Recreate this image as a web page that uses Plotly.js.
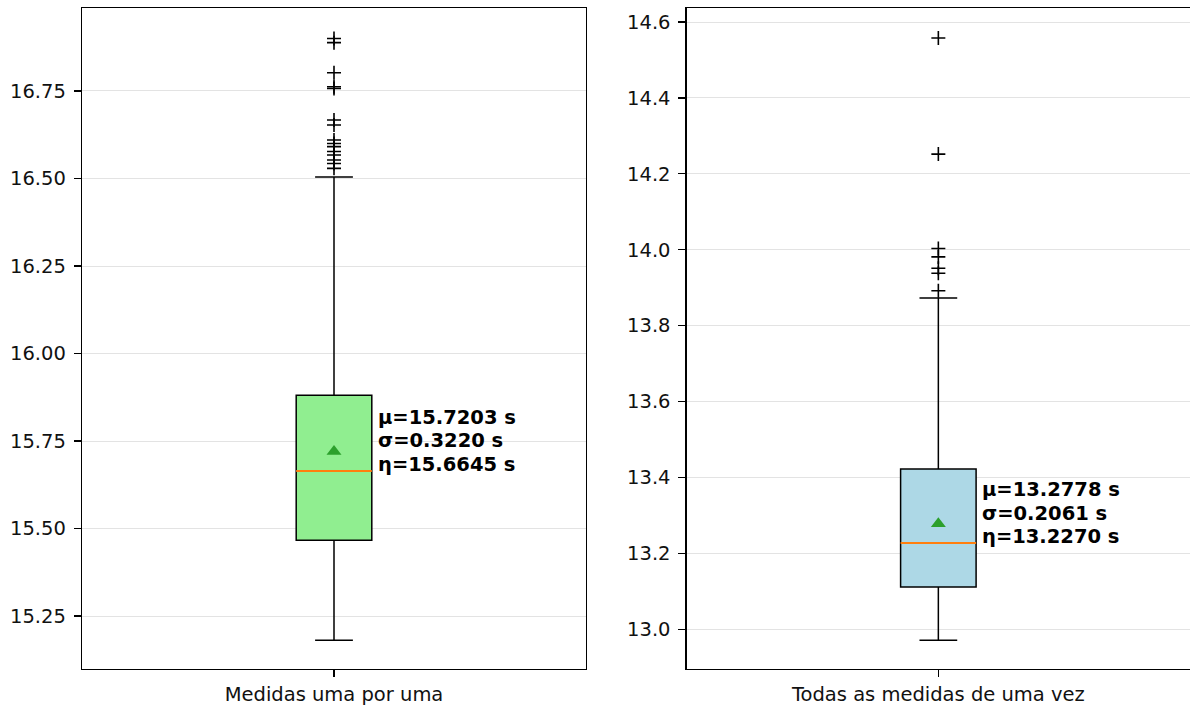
<!DOCTYPE html>
<html>
<head>
<meta charset="utf-8">
<script src="https://cdn.plot.ly/plotly-3.0.1.min.js"></script>
<style>html,body{margin:0;padding:0;background:#fff;overflow:hidden}</style>
</head>
<body>
<div id="chart" style="width:1190px;height:708px"></div>
<script>
// ---- data ----
const categories = ['Medidas uma por uma', 'Todas as medidas de uma vez'];
const q1 = [15.467, 13.111];
const median = [15.6645, 13.2270];
const q3 = [15.881, 13.422];
const lowerWhisker = [15.181, 12.971];
const upperWhisker = [16.504, 13.873];
const mean = [15.7203, 13.2778];
const std = [0.3220, 0.2061];
const outliersA = [16.900, 16.888, 16.802, 16.762, 16.757, 16.667, 16.653, 16.610, 16.600, 16.591, 16.577, 16.567, 16.553, 16.543, 16.529];
const outliersB = [14.558, 14.252, 14.003, 13.981, 13.951, 13.938, 13.892];
const fillColors = ['#90ee90', '#add8e6'];
const yTicksA = [15.25, 15.50, 15.75, 16.00, 16.25, 16.50, 16.75];
const yTicksB = [13.0, 13.2, 13.4, 13.6, 13.8, 14.0, 14.2, 14.4, 14.6];

// ---- styling ----
const FONT = 'DejaVu Sans, Liberation Sans, sans-serif';
const FS = 19.5;
const POS = 1;
const BW = 0.15;
const outliers = [outliersA, outliersB];

const traces = [];
const shapes = [];
const annotations = [];

for (let i = 0; i < 2; i++) {
  const xa = i === 0 ? 'x' : 'x2';
  const ya = i === 0 ? 'y' : 'y2';
  traces.push({
    type: 'box', xaxis: xa, yaxis: ya,
    x: [POS], q1: [q1[i]], median: [median[i]], q3: [q3[i]],
    lowerfence: [lowerWhisker[i]], upperfence: [upperWhisker[i]],
    width: BW, whiskerwidth: 0.5,
    fillcolor: fillColors[i],
    line: {color: '#000000', width: 1.5},
    boxpoints: false, hoverinfo: 'skip', showlegend: false
  });
  traces.push({
    type: 'scatter', mode: 'markers', xaxis: xa, yaxis: ya,
    x: outliers[i].map(() => POS), y: outliers[i],
    marker: {symbol: 'cross-thin', size: 10, color: '#000000', line: {color: '#000000', width: 1.6}},
    showlegend: false, hoverinfo: 'y'
  });
  traces.push({
    type: 'scatter', mode: 'markers', xaxis: xa, yaxis: ya,
    x: [POS], y: [mean[i]],
    marker: {symbol: 'triangle-up', size: 13, color: '#2ca02c'},
    showlegend: false, hoverinfo: 'y'
  });
  shapes.push({
    type: 'line', xref: xa, yref: ya, layer: 'above',
    x0: POS - BW / 2, x1: POS + BW / 2, y0: median[i], y1: median[i],
    line: {color: '#ff7f0e', width: 2}
  });
  const lines = [
    'μ=' + mean[i].toFixed(4) + ' s',
    'σ=' + std[i].toFixed(4) + ' s',
    'η=' + median[i].toFixed(4) + ' s'
  ];
  const shifts = [34, 10.5, -13];
  lines.forEach((t, k) => {
    annotations.push({
      xref: xa, yref: ya, x: POS + BW / 2, y: mean[i],
      xanchor: 'left', yanchor: 'middle', xshift: 5, yshift: shifts[k],
      text: '<b>' + t + '</b>', showarrow: false, borderpad: 0,
      font: {family: FONT, size: FS, color: '#000000'}
    });
  });
}

const axisCommon = {
  showline: true, mirror: true, linecolor: '#000000', linewidth: 1.3,
  ticks: 'outside', ticklen: 7, tickwidth: 1.3, tickcolor: '#000000',
  tickfont: {family: FONT, size: FS, color: '#111111'},
  zeroline: false, automargin: false, fixedrange: true
};

const layout = {
  width: 1190, height: 708,
  margin: {l: 0, r: 0, t: 0, b: 0},
  paper_bgcolor: '#ffffff', plot_bgcolor: '#ffffff',
  showlegend: false,
  font: {family: FONT, size: FS, color: '#000000'},
  xaxis: Object.assign({}, axisCommon, {
    domain: [82 / 1190, 586 / 1190], range: [0.5, 1.5],
    tickvals: [POS], ticktext: [categories[0]], showgrid: false, anchor: 'y'
  }),
  yaxis: Object.assign({}, axisCommon, {
    domain: [39 / 708, 700 / 708], range: [15.099, 16.987],
    tickvals: yTicksA, tickformat: '.2f', showgrid: true,
    gridcolor: 'rgba(0,0,0,0.11)', gridwidth: 1, anchor: 'x', ticklabelstandoff: 4
  }),
  xaxis2: Object.assign({}, axisCommon, {
    domain: [686.7 / 1190, 1], range: [0.5, 1.5],
    tickvals: [POS], ticktext: [categories[1]], showgrid: false, anchor: 'y2'
  }),
  yaxis2: Object.assign({}, axisCommon, {
    domain: [39 / 708, 700 / 708], range: [12.895, 14.637],
    tickvals: yTicksB, tickformat: '.1f', showgrid: true,
    gridcolor: 'rgba(0,0,0,0.11)', gridwidth: 1, anchor: 'x2', ticklabelstandoff: 4
  }),
  shapes: shapes,
  annotations: annotations
};

Plotly.newPlot('chart', traces, layout, {displayModeBar: false, staticPlot: true});
</script>
</body>
</html>
